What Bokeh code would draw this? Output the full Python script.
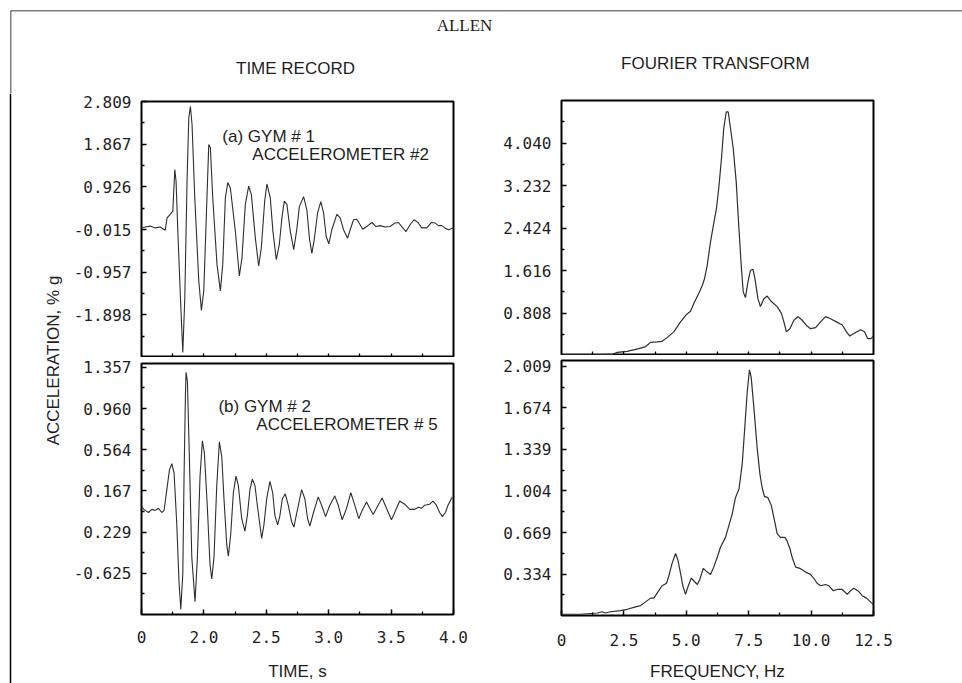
import math
from bokeh.plotting import figure
from bokeh.layouts import row, column
from bokeh.models import Range1d, FixedTicker, Label, Span
from bokeh.embed import file_html
from bokeh.resources import INLINE

# ---------------- data ----------------
# (a) GYM #1, accelerometer #2 : time record (s, %g)
gym1_t = [1.50, 1.53, 1.57, 1.61, 1.65, 1.69, 1.705, 1.73, 1.751, 1.767, 1.777, 1.791, 1.812, 1.831,
          1.847, 1.865, 1.879, 1.892, 1.905, 1.927, 1.959, 1.980, 1.999, 2.020, 2.039, 2.052, 2.071,
          2.105, 2.132, 2.151, 2.172, 2.191, 2.212, 2.252, 2.284, 2.305, 2.332, 2.359, 2.380, 2.412,
          2.439, 2.460, 2.487, 2.505, 2.532, 2.553, 2.580, 2.604, 2.625, 2.644, 2.665, 2.692, 2.72,
          2.745, 2.765, 2.799, 2.825, 2.847, 2.865, 2.884, 2.911, 2.937, 2.959, 2.980, 3.001, 3.025,
          3.065, 3.092, 3.119, 3.151, 3.172, 3.199, 3.225, 3.252, 3.273, 3.305, 3.345, 3.380, 3.412,
          3.452, 3.492, 3.532, 3.559, 3.585, 3.620, 3.652, 3.684, 3.719, 3.745, 3.785, 3.825, 3.852,
          3.879, 3.905, 3.932, 3.959, 4.00]
gym1_a = [0.02, 0.04, 0.06, 0.02, 0.04, -0.03, 0.24, 0.32, 0.39, 1.31, 1.05, -0.05, -1.52, -2.73,
          -1.52, 1.05, 2.45, 2.70, 2.30, 0.68, -1.15, -1.80, -1.37, 0.32, 1.86, 1.79, 0.68,
          -0.79, -1.37, -0.79, 0.68, 1.02, 0.90, -0.05, -1.04, -0.64, 0.54, 0.94, 0.76, -0.20,
          -0.82, -0.42, 0.61, 0.99, 0.68, -0.05, -0.68, -0.35, 0.24, 0.61, 0.54, -0.05, -0.46,
          0.00, 0.49, 0.71, 0.42, -0.24, -0.54, -0.24, 0.35, 0.60, 0.35, -0.17, -0.33, -0.02,
          0.32, 0.24, -0.02, -0.21, -0.02, 0.20, 0.21, 0.09, -0.01, 0.05, 0.14, 0.05, 0.07,
          0.04, 0.05, 0.13, 0.14, 0.05, -0.06, 0.09, 0.20, 0.13, 0.02, 0.02, 0.14, 0.13,
          0.07, 0.07, 0.02, -0.02, 0.02]

# (b) GYM #2, accelerometer #5 : time record (s, %g)
gym2_t = [1.50, 1.53, 1.556, 1.583, 1.609, 1.636, 1.663, 1.681, 1.703, 1.724, 1.743, 1.761, 1.783,
          1.801, 1.815, 1.831, 1.841, 1.852, 1.857, 1.868, 1.884, 1.903, 1.929, 1.948, 1.969, 1.988,
          2.004, 2.028, 2.049, 2.063, 2.081, 2.103, 2.124, 2.143, 2.161, 2.183, 2.196, 2.215, 2.236,
          2.257, 2.276, 2.303, 2.329, 2.348, 2.369, 2.388, 2.409, 2.428, 2.463, 2.481, 2.503, 2.529,
          2.551, 2.569, 2.591, 2.609, 2.628, 2.652, 2.676, 2.703, 2.721, 2.745, 2.783, 2.809, 2.831,
          2.849, 2.876, 2.916, 2.943, 2.975, 3.009, 3.049, 3.076, 3.108, 3.143, 3.177, 3.209, 3.241,
          3.268, 3.303, 3.329, 3.356, 3.383, 3.428, 3.463, 3.503, 3.529, 3.569, 3.609, 3.649, 3.689,
          3.721, 3.743, 3.769, 3.809, 3.836, 3.863, 3.889, 3.911, 3.935, 3.956, 3.99]
gym2_a = [0.01, -0.02, -0.04, -0.01, -0.02, 0.00, -0.04, -0.02, 0.18, 0.37, 0.43, 0.34, -0.16,
          -0.72, -0.97, -0.63, 0.31, 1.09, 1.31, 1.22, 0.47, -0.47, -0.90, -0.47, 0.31, 0.65,
          0.53, 0.00, -0.54, -0.68, -0.47, 0.22, 0.64, 0.50, 0.09, -0.35, -0.46, -0.25, 0.15,
          0.31, 0.22, -0.10, -0.22, -0.07, 0.18, 0.28, 0.22, 0.03, -0.29, -0.16, 0.09, 0.26,
          0.15, -0.07, -0.16, -0.07, 0.09, 0.14, 0.03, -0.13, -0.18, -0.04, 0.18, 0.09, -0.10,
          -0.17, -0.05, 0.11, 0.03, -0.08, 0.03, 0.12, 0.03, -0.11, 0.00, 0.15, 0.03, -0.10,
          -0.02, 0.06, 0.00, -0.06, 0.00, 0.10, 0.00, -0.11, -0.04, 0.07, 0.04, -0.01, -0.01,
          0.01, 0.00, 0.03, 0.04, 0.07, 0.03, -0.04, -0.08, -0.04, 0.03, 0.11]

# Fourier transform of (a) (Hz, amplitude)
ft1_f = [0.00, 1.30, 2.03, 2.23, 2.63, 3.10, 3.37, 3.57, 3.83, 4.03, 4.23, 4.50, 4.77, 5.01, 5.17,
         5.30, 5.50, 5.64, 5.73, 5.84, 5.97, 6.10, 6.21, 6.30, 6.41, 6.50, 6.60, 6.68, 6.77, 6.88,
         7.00, 7.10, 7.20, 7.28, 7.37, 7.47, 7.57, 7.67, 7.75, 7.87, 7.97, 8.11, 8.24, 8.40, 8.64,
         8.81, 8.91, 9.01, 9.15, 9.31, 9.48, 9.64, 9.84, 9.98, 10.18, 10.38, 10.58, 10.78, 11.05,
         11.25, 11.42, 11.55, 11.71, 11.98, 12.14, 12.27, 12.38, 12.49]
ft1_v = [0.01, 0.01, 0.02, 0.06, 0.08, 0.13, 0.17, 0.25, 0.26, 0.27, 0.34, 0.45, 0.64, 0.78, 0.84,
         0.99, 1.18, 1.33, 1.46, 1.72, 2.16, 2.51, 2.80, 3.18, 3.75, 4.32, 4.63, 4.63, 4.32, 3.94,
         3.30, 2.48, 1.72, 1.21, 1.10, 1.40, 1.62, 1.64, 1.46, 1.08, 0.93, 1.08, 1.13, 1.03, 0.93,
         0.80, 0.64, 0.45, 0.51, 0.67, 0.74, 0.67, 0.56, 0.51, 0.53, 0.64, 0.74, 0.70, 0.63,
         0.58, 0.45, 0.37, 0.42, 0.49, 0.45, 0.32, 0.32, 0.36]

# Fourier transform of (b) (Hz, amplitude)
ft2_f = [0.00, 0.76, 1.43, 1.63, 1.76, 1.96, 2.36, 2.63, 2.97, 3.17, 3.37, 3.57, 3.70, 3.83, 4.03,
         4.21, 4.30, 4.43, 4.57, 4.66, 4.77, 4.86, 4.97, 5.08, 5.20, 5.30, 5.44, 5.54, 5.68, 5.84,
         5.97, 6.10, 6.24, 6.37, 6.57, 6.70, 6.84, 6.97, 7.11, 7.24, 7.33, 7.44, 7.53, 7.60, 7.71,
         7.84, 7.95, 8.04, 8.13, 8.27, 8.40, 8.51, 8.64, 8.77, 8.95, 9.04, 9.15, 9.24, 9.38, 9.55,
         9.78, 9.98, 10.11, 10.24, 10.38, 10.58, 10.71, 10.88, 11.05, 11.25, 11.45, 11.58, 11.71,
         11.87, 12.05, 12.22, 12.38, 12.49]
ft2_v = [0.01, 0.01, 0.02, 0.03, 0.02, 0.03, 0.04, 0.05, 0.07, 0.08, 0.11, 0.14, 0.14, 0.18, 0.24,
         0.26, 0.32, 0.42, 0.50, 0.45, 0.34, 0.24, 0.17, 0.24, 0.30, 0.28, 0.25, 0.29, 0.38, 0.35,
         0.33, 0.39, 0.47, 0.55, 0.63, 0.72, 0.82, 0.95, 1.02, 1.22, 1.48, 1.80, 1.98, 1.92, 1.67,
         1.35, 1.14, 1.03, 0.96, 0.95, 0.89, 0.79, 0.66, 0.63, 0.63, 0.60, 0.54, 0.47, 0.39, 0.38,
         0.35, 0.33, 0.30, 0.26, 0.24, 0.25, 0.24, 0.20, 0.21, 0.21, 0.17, 0.20, 0.22,
         0.20, 0.16, 0.14, 0.11, 0.09]

# ---------------- ticks ----------------
time_ticks = [1.5, 2.0, 2.5, 3.0, 3.5, 4.0]
time_labels = ["0", "2.0", "2.5", "3.0", "3.5", "4.0"]
time_minor = [1.75, 2.25, 2.75, 3.25, 3.75]
time_all = [1.75, 2.0, 2.25, 2.5, 2.75, 3.0, 3.25, 3.5, 3.75]
freq_ticks = [0.0, 2.5, 5.0, 7.5, 10.0, 12.5]
freq_labels = ["0", "2.5", "5.0", "7.5", "10.0", "12.5"]
freq_minor = [1.25, 3.75, 6.25, 8.75, 11.25]
freq_all = [1.25, 2.5, 3.75, 5.0, 6.25, 7.5, 8.75, 10.0, 11.25]

a_ticks = [2.809, 1.867, 0.926, -0.015, -0.957, -1.898]
a_labels = ["2.809", "1.867", "0.926", "-0.015", "-0.957", "-1.898"]
a_minor = [2.338, 1.397, 0.456, -0.486, -1.428, -2.369]
b_ticks = [1.357, 0.960, 0.564, 0.167, -0.229, -0.625]
b_labels = ["1.357", "0.960", "0.564", "0.167", "0.229", "-0.625"]
b_minor = [1.159, 0.762, 0.366, -0.031, -0.427, -0.824]
fa_ticks = [4.040, 3.232, 2.424, 1.616, 0.808]
fa_labels = ["4.040", "3.232", "2.424", "1.616", "0.808"]
fa_minor = [4.444, 3.636, 2.828, 2.020, 1.212, 0.404]
fb_ticks = [2.009, 1.674, 1.339, 1.004, 0.669, 0.334]
fb_labels = ["2.009", "1.674", "1.339", "1.004", "0.669", "0.334"]
fb_minor = [1.842, 1.507, 1.172, 0.837, 0.502, 0.167]

# ---------------- styling ----------------
SANS = "Liberation Sans"
MONO = "DejaVu Sans Mono"
INK = "#1e1e1e"
CURVE = "#2e2e2e"
TICK_FONT = "16px"
TEXT_FONT = "17px"


def blank(width, height, xr, yr, left=0, top=0):
    p = figure(width=width, height=height, x_range=Range1d(*xr), y_range=Range1d(*yr),
               output_backend="svg", toolbar_location=None, title=None,
               x_axis_location=None, y_axis_location=None,
               min_border_left=left, min_border_right=0, min_border_top=top, min_border_bottom=0)
    p.grid.visible = False
    p.outline_line_color = None
    p.background_fill_color = "white"
    p.border_fill_color = "white"
    return p


def style_axis(ax, ticks, labels, minor, standoff=10):
    ax.ticker = FixedTicker(ticks=ticks, minor_ticks=minor)
    if ticks:
        ax.major_label_overrides = dict(zip(ticks, labels))
    ax.axis_line_color = None
    ax.major_tick_in = 5
    ax.major_tick_out = 0
    ax.minor_tick_in = 4 if not ticks else 3
    ax.minor_tick_out = 0
    ax.major_tick_line_color = "black"
    ax.major_tick_line_width = 1.5
    ax.minor_tick_line_color = "black"
    ax.minor_tick_line_width = 1.3
    ax.major_label_text_font = MONO
    ax.major_label_text_color = INK
    ax.major_label_text_font_size = TICK_FONT
    ax.major_label_standoff = standoff


def axis_title(ax, text, standoff):
    ax.axis_label = text
    ax.axis_label_text_font = SANS
    ax.axis_label_text_font_size = TEXT_FONT
    ax.axis_label_text_font_style = "normal"
    ax.axis_label_text_color = INK
    ax.axis_label_standoff = standoff


def panel(width, height, xr, yr, bl, br, bt, bb):
    p = figure(width=width, height=height, x_range=Range1d(*xr), y_range=Range1d(*yr),
               output_backend="svg", toolbar_location=None, title=None,
               min_border_left=bl, min_border_right=br, min_border_top=bt, min_border_bottom=bb)
    p.grid.visible = False
    p.outline_line_color = "black"
    p.outline_line_width = 2
    p.background_fill_color = "white"
    p.border_fill_color = "white"
    return p


def note(p, x, y, text):
    p.add_layout(Label(x=x, y=y, text=text, text_font=SANS, text_font_size=TEXT_FONT,
                       text_color=INK, text_align="left", text_baseline="middle"))


# header with titles and frame line (data units = page pixels)
header = blank(962, 93, (10, 962), (93, 10), left=10, top=10)
header.add_layout(Span(location=10, dimension="width", line_color="black", line_width=1.5))
header.add_layout(Span(location=10, dimension="height", line_color="black", line_width=1.5))
header.add_layout(Label(x=464, y=25, text="ALLEN", text_font="Liberation Serif",
                        text_font_size="17px", text_color=INK, text_align="center",
                        text_baseline="middle"))
header.add_layout(Label(x=295, y=68, text="TIME RECORD", text_font=SANS,
                        text_font_size=TEXT_FONT, text_color=INK, text_align="center",
                        text_baseline="middle"))
header.add_layout(Label(x=715, y=63, text="FOURIER TRANSFORM", text_font=SANS,
                        text_font_size=TEXT_FONT, text_color=INK, text_align="center",
                        text_baseline="middle"))

# left strip with y axis title (data units = pixels from strip top)
strip = blank(70, 590, (0, 70), (590, 0))
strip.add_layout(Span(location=10, dimension="height", line_color="black", line_width=1.5))
strip.add_layout(Label(x=53, y=267, text="ACCELERATION, % g", text_font=SANS,
                       text_font_size=TEXT_FONT, text_color=INK, text_align="center",
                       text_baseline="middle", angle=math.pi / 2))

# (a) time record
tl = panel(430, 264, (1.5, 4.0), (-2.839, 2.809), 71, 47, 8, 0)
tl.line(gym1_t, gym1_a, line_color=CURVE, line_width=1.1)
style_axis(tl.xaxis[0], [], [], time_all, standoff=0)
style_axis(tl.yaxis[0], a_ticks, a_labels, a_minor)
note(tl, 2.148, 2.037, "(a) GYM # 1")
note(tl, 2.388, 1.640, "ACCELEROMETER #2")

# (b) time record
bl = panel(430, 326, (1.5, 4.0), (-1.022, 1.394), 71, 47, 6, 66)
bl.line(gym2_t, gym2_a, line_color=CURVE, line_width=1.1)
style_axis(bl.xaxis[0], time_ticks, time_labels, time_minor, standoff=16)
style_axis(bl.yaxis[0], b_ticks, b_labels, b_minor)
axis_title(bl.xaxis[0], "TIME, s", 16)
note(bl, 2.116, 0.984, "(b) GYM # 2")
note(bl, 2.42, 0.807, "ACCELEROMETER # 5")

# Fourier transform (a)
tr = panel(462, 262, (0, 12.5), (0, 4.848), 61, 89, 7, 0)
tr.line(ft1_f, ft1_v, line_color=CURVE, line_width=1.2)
style_axis(tr.xaxis[0], [], [], freq_all, standoff=0)
style_axis(tr.yaxis[0], fa_ticks, fa_labels, fa_minor)

# Fourier transform (b)
br = panel(462, 328, (0, 12.5), (0, 2.056), 61, 89, 5, 66)
br.line(ft2_f, ft2_v, line_color=CURVE, line_width=1.2)
style_axis(br.xaxis[0], freq_ticks, freq_labels, freq_minor, standoff=18)
style_axis(br.yaxis[0], fb_ticks, fb_labels, fb_minor)
axis_title(br.xaxis[0], "FREQUENCY, Hz", 13)

layout = column(header, row(strip, column(tl, bl), column(tr, br)))

open("out.html", "w").write(file_html(layout, INLINE))
